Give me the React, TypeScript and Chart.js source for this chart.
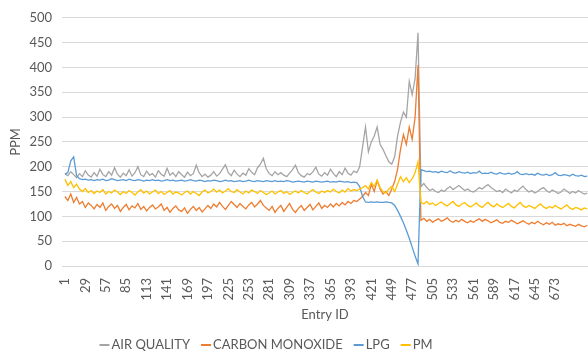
import React, { useEffect, useRef } from "react";
import { Chart, registerables } from "chart.js";

Chart.register(...registerables);

// Entry IDs sampled from the chart (every 4th entry)
const entryIds = [
  1, 5, 9, 13, 17, 21, 25, 29, 33, 37,
  41, 45, 49, 53, 57, 61, 65, 69, 73, 77,
  81, 85, 89, 93, 97, 101, 105, 109, 113, 117,
  121, 125, 129, 133, 137, 141, 145, 149, 153, 157,
  161, 165, 169, 173, 177, 181, 185, 189, 193, 197,
  201, 205, 209, 213, 217, 221, 225, 229, 233, 237,
  241, 245, 249, 253, 257, 261, 265, 269, 273, 277,
  281, 285, 289, 293, 297, 301, 305, 309, 313, 317,
  321, 325, 329, 333, 337, 341, 345, 349, 353, 357,
  361, 365, 369, 373, 377, 381, 385, 389, 393, 397,
  401, 405, 409, 413, 417, 421, 425, 429, 433, 437,
  441, 445, 449, 453, 457, 461, 465, 469, 473, 477,
  481, 485, 489, 493, 497, 501, 505, 509, 513, 517,
  521, 525, 529, 533, 537, 541, 545, 549, 553, 557,
  561, 565, 569, 573, 577, 581, 585, 589, 593, 597,
  601, 605, 609, 613, 617, 621, 625, 629, 633, 637,
  641, 645, 649, 653, 657, 661, 665, 669, 673, 677,
  681, 685, 689, 693, 697, 701, 705, 709, 713, 717,
];

const tickLabels = [
  1, 29, 57, 85, 113, 141, 169, 197, 225, 253, 281, 309, 337,
  365, 393, 421, 449, 477, 505, 533, 561, 589, 617, 645, 673,
];

const airQuality = [
  186, 182, 190, 184, 178, 186, 180, 192, 183, 179,
  188, 181, 195, 184, 180, 190, 183, 198, 185, 179,
  187, 182, 194, 181, 188, 200, 184, 180, 191, 183,
  186, 179, 192, 185, 181, 197, 183, 188, 180, 190,
  184, 179, 189, 182, 186, 203, 188, 180, 185, 179,
  183, 190, 181, 186, 195, 204, 188, 182, 193, 185,
  180, 187, 183, 196, 189, 184, 198, 205, 217, 196,
  186, 182, 190, 184, 188, 183, 180, 187, 194, 203,
  188, 182, 179, 186, 184, 190, 199, 185, 181, 188,
  183, 195, 186, 180, 190, 184, 197, 187, 183, 191,
  188, 200, 240, 280, 230, 250, 262, 280, 245, 235,
  222, 210, 205, 220, 262, 290, 310, 300, 372, 345,
  378, 470,
  160, 166, 158, 152, 155, 150, 148, 153,
  150, 156, 160, 154, 158, 162, 157, 152, 155, 151,
  149, 153, 158, 155, 160, 164, 158, 154, 150, 152,
  148, 155, 151, 147, 153, 150, 156, 161, 154, 149,
  152, 147, 150, 155, 158, 152, 148, 153, 150, 146,
  149, 155, 151, 146, 150, 147, 152, 148, 145, 147,
];

const carbonMonoxide = [
  140, 132, 145, 128, 138, 125, 130, 118, 127, 122,
  115, 124, 118, 127, 112, 120, 125, 116, 122, 110,
  118, 124, 113, 121, 117, 126, 114, 120, 111, 118,
  123, 115, 119, 125, 112, 118, 108, 116, 121, 113,
  110, 117, 106, 114, 120, 112, 118, 109, 115, 122,
  116, 125, 119, 128, 120, 114, 122, 130, 124, 118,
  126, 120, 115, 123, 128, 119, 125, 132, 122, 117,
  112, 120, 108, 116, 122, 110, 118, 126, 114, 108,
  116, 122, 112, 118, 124, 113, 120, 127, 116, 122,
  118, 125, 119, 126, 121, 128, 123, 130, 126, 132,
  130, 135, 140, 148, 142, 165, 150, 172, 155, 145,
  150, 142, 155, 170, 195, 235, 265, 245, 280, 255,
  300, 405,
  92, 96, 90, 94, 88, 92, 95, 90,
  93, 97, 91, 88, 92, 89, 94, 90, 87, 91,
  88, 92, 95, 90, 94, 91, 87, 90, 93, 88,
  86, 90, 88, 92, 89, 85, 88, 91, 87, 84,
  88, 85, 90, 86, 83, 87, 84, 88, 82, 85,
  83, 86, 81, 84, 82, 80, 84, 81, 79, 82,
];

const lpg = [
  185, 188, 212, 220, 182, 176, 174, 175, 173, 174,
  172, 174, 173, 175, 172, 173, 176, 174, 172, 173,
  174, 172, 175, 173, 172, 174, 173, 171, 173, 172,
  174, 172, 173, 171, 172, 174, 172, 173, 171, 172,
  173, 171, 172, 174, 172, 171, 173, 172, 170, 172,
  171, 173, 172, 170, 171, 173, 171, 172, 170, 171,
  172, 170, 171, 173, 171, 170, 172, 171, 170, 172,
  171, 170, 172, 170, 171, 170, 172, 171, 169, 170,
  171, 170, 169, 171, 170, 169, 171, 170, 169, 170,
  171, 169, 170, 169, 171, 170, 169, 170, 168, 169,
  168, 160, 140, 129, 128, 129, 128, 129, 128, 128,
  129, 128, 127, 122, 112, 100, 87, 72, 56, 38,
  20, 4,
  194, 192, 190, 191, 189, 190, 188, 191,
  189, 188, 192, 188, 187, 190, 188, 187, 189, 186,
  188, 187, 191, 186, 187, 186, 189, 186, 185, 188,
  186, 185, 187, 185, 186, 190, 185, 184, 186, 184,
  185, 183, 187, 184, 183, 185, 182, 184, 188, 183,
  182, 184, 183, 181, 185, 182, 181, 183, 180, 181,
];

const pm = [
  175, 162, 170, 158, 165, 155, 150, 156, 148, 152,
  146, 151, 148, 154, 145, 150, 147, 153, 149, 144,
  150, 146, 152, 148, 143, 149, 154, 147, 151, 145,
  149, 153, 146, 150, 144, 148, 152, 145, 149, 147,
  143, 148, 151, 145, 150, 146, 142, 149, 153, 147,
  150, 155, 149, 153, 147, 151, 156, 150, 148, 154,
  149, 145, 151, 147, 153, 150, 146, 152, 148, 144,
  147, 151, 145, 149, 152, 146, 150, 144, 148, 151,
  147, 152, 148, 145, 150, 154, 149, 146, 151, 148,
  152, 149, 155, 150, 147, 153, 149, 156, 151, 154,
  152, 155, 158, 162, 155, 168, 160, 173, 158, 150,
  147, 155, 160, 150, 165, 180, 170, 178, 168, 176,
  188, 210,
  128, 125, 130, 124, 127, 122, 126, 129,
  124, 121, 126, 130, 123, 120, 125, 128, 122, 119,
  123, 127, 121, 118, 124, 128, 122, 119, 125, 121,
  118, 122, 126, 120, 117, 123, 128, 121, 118, 122,
  119, 116, 121, 125, 119, 116, 120, 117, 122, 118,
  115, 119, 123, 117, 114, 118, 116, 113, 117, 115,
];

const seriesNames = ["AIR QUALITY", "CARBON MONOXIDE", "LPG", "PM"];
const seriesColors = ["#A5A5A5", "#ED7D31", "#5B9BD5", "#FFC000"];
const seriesValues = [airQuality, carbonMonoxide, lpg, pm];

const FONT = "Lato";
const TEXT = "#595959";

const legendPlugin = {
  id: "excelLegend",
  afterDraw(chart: any) {
    const ctx = chart.ctx as CanvasRenderingContext2D;
    ctx.save();
    ctx.font = `13px ${FONT}`;
    const lineLen = 10;
    const lineGap = 2;
    const itemGap = 11;
    const widths = seriesNames.map((n) => ctx.measureText(n).width);
    const total =
      widths.reduce((a, w) => a + lineLen + lineGap + w, 0) +
      itemGap * (seriesNames.length - 1);
    let x = 266 - total / 2;
    const y = 345;
    ctx.textBaseline = "middle";
    ctx.textAlign = "left";
    seriesNames.forEach((name, i) => {
      ctx.strokeStyle = seriesColors[i];
      ctx.lineWidth = 2;
      ctx.beginPath();
      ctx.moveTo(x, y);
      ctx.lineTo(x + lineLen, y);
      ctx.stroke();
      ctx.fillStyle = TEXT;
      ctx.fillText(name, x + lineLen + lineGap, y);
      x += lineLen + lineGap + widths[i] + itemGap;
    });
    ctx.restore();
  },
};

export default function App() {
  const canvasRef = useRef<HTMLCanvasElement | null>(null);

  useEffect(() => {
    if (!canvasRef.current) return;
    const datasets = seriesNames.map((name, s) => ({
      label: name,
      data: entryIds.map((id, i) => ({ x: id, y: seriesValues[s][i] })),
      borderColor: seriesColors[s],
      backgroundColor: seriesColors[s],
      borderWidth: 1.3,
      pointRadius: 0,
      tension: 0,
      fill: false,
      order: seriesNames.length - s,
    }));

    const chart = new Chart(canvasRef.current, {
      type: "line",
      data: { datasets },
      plugins: [legendPlugin],
      options: {
        responsive: false,
        animation: false,
        events: [],
        layout: { padding: { top: 17, left: 0, right: 0, bottom: 30 } },
        plugins: {
          legend: { display: false },
          tooltip: { enabled: false },
        },
        scales: {
          x: {
            type: "linear",
            min: -3,
            max: 718,
            afterBuildTicks: (scale: any) => {
              scale.ticks = tickLabels.map((v) => ({ value: v }));
            },
            afterFit: (scale: any) => {
              scale.height = 62;
            },
            ticks: {
              autoSkip: false,
              minRotation: 90,
              maxRotation: 90,
              padding: 12,
              color: TEXT,
              font: { family: FONT, size: 13 },
            },
            grid: { display: false, drawTicks: false },
            border: { display: false },
            title: {
              display: true,
              text: "Entry ID",
              color: TEXT,
              font: { family: FONT, size: 13 },
              padding: { top: 0, bottom: 5 },
            },
          },
          y: {
            min: 0,
            max: 500,
            afterFit: (scale: any) => {
              scale.width = 62;
            },
            ticks: {
              stepSize: 50,
              padding: 10,
              color: TEXT,
              font: { family: FONT, size: 13 },
            },
            grid: { color: "#D9D9D9", drawTicks: false, lineWidth: 1 },
            border: { display: false },
            title: {
              display: true,
              text: "PPM",
              color: TEXT,
              font: { family: FONT, size: 13 },
              padding: { top: 8, bottom: 0 },
            },
          },
        },
      },
    });
    return () => chart.destroy();
  }, []);

  return (
    <div style={{ position: "absolute", left: 0, top: 0, width: 588, height: 358, background: "#fff" }}>
      <canvas ref={canvasRef} width={588} height={358} />
    </div>
  );
}
